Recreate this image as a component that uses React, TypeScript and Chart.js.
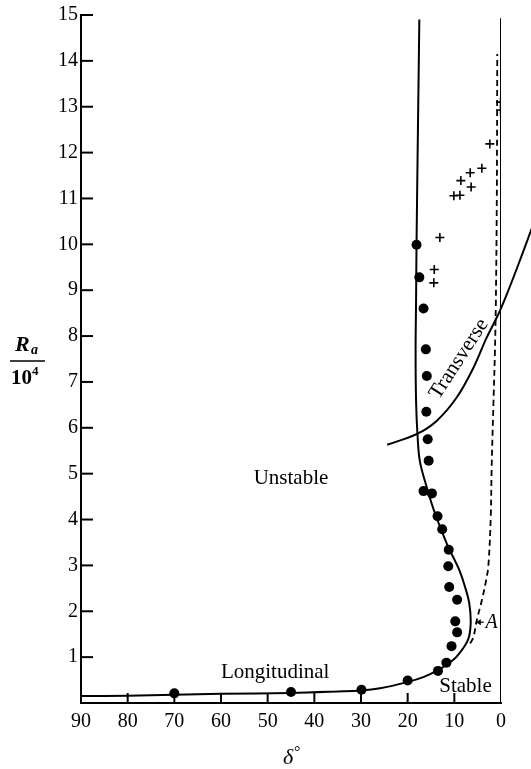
import React, { useEffect, useRef } from "react";
import { Chart, registerables } from "chart.js";

Chart.register(...registerables);

// ---- data (δ in degrees, Ra / 10^4) ----
const xTicks = [90, 80, 70, 60, 50, 40, 30, 20, 10, 0];
const yTicks = [1, 2, 3, 4, 5, 6, 7, 8, 9, 10, 11, 12, 13, 14, 15];

const longitudinalCurve = [
  { x: 90, y: 0.15 }, { x: 80, y: 0.16 }, { x: 70, y: 0.18 }, { x: 60, y: 0.2 },
  { x: 45, y: 0.22 }, { x: 35, y: 0.25 }, { x: 30, y: 0.27 }, { x: 25.9, y: 0.32 },
  { x: 20.3, y: 0.45 }, { x: 16.5, y: 0.57 }, { x: 13.4, y: 0.72 }, { x: 11.3, y: 0.86 },
  { x: 9.5, y: 1.01 }, { x: 7.1, y: 1.37 }, { x: 6.5, y: 1.73 }, { x: 6.8, y: 2.17 },
  { x: 7.7, y: 2.53 }, { x: 8.9, y: 2.89 }, { x: 9.9, y: 3.11 }, { x: 11.6, y: 3.47 },
  { x: 14.1, y: 4.12 }, { x: 15.9, y: 4.7 }, { x: 17.4, y: 5.28 }, { x: 17.9, y: 5.86 },
  { x: 18.2, y: 6.59 }, { x: 18.3, y: 7.67 }, { x: 18.2, y: 8.76 }, { x: 18.1, y: 10 },
  { x: 17.8, y: 12.5 }, { x: 17.5, y: 14.9 },
];

const dashedCurve = [
  { x: 6.6, y: 1.3 }, { x: 5.9, y: 1.44 }, { x: 5.2, y: 1.8 }, { x: 4.1, y: 2.24 },
  { x: 3.2, y: 2.67 }, { x: 2.7, y: 3.0 }, { x: 2.2, y: 4.05 }, { x: 2.0, y: 5.14 },
  { x: 1.6, y: 6.6 }, { x: 1.3, y: 7.67 }, { x: 1.1, y: 8.76 }, { x: 0.9, y: 11 },
  { x: 0.8, y: 14.15 },
];

const zeroLine = [{ x: 0, y: 0 }, { x: 0, y: 14.93 }];

const transverseCurve = [
  { x: 24.4, y: 5.63 }, { x: 18.1, y: 5.86 }, { x: 13.8, y: 6.15 }, { x: 9.5, y: 6.66 },
  { x: 5.9, y: 7.31 }, { x: 3.1, y: 7.96 }, { x: 0.6, y: 8.47 }, { x: -1.2, y: 8.9 },
  { x: -3.5, y: 9.5 }, { x: -6.6, y: 10.35 },
];

const dots = [
  { x: 70, y: 0.21 }, { x: 45, y: 0.24 }, { x: 29.9, y: 0.29 }, { x: 20, y: 0.49 },
  { x: 13.5, y: 0.7 }, { x: 11.7, y: 0.88 }, { x: 10.6, y: 1.24 }, { x: 9.4, y: 1.54 },
  { x: 9.8, y: 1.78 }, { x: 9.4, y: 2.25 }, { x: 11.1, y: 2.53 }, { x: 11.3, y: 2.98 },
  { x: 11.2, y: 3.34 }, { x: 12.6, y: 3.79 }, { x: 13.6, y: 4.07 }, { x: 14.8, y: 4.57 },
  { x: 16.6, y: 4.62 }, { x: 15.5, y: 5.28 }, { x: 15.7, y: 5.75 }, { x: 16.0, y: 6.35 },
  { x: 15.9, y: 7.13 }, { x: 16.1, y: 7.71 }, { x: 16.6, y: 8.6 }, { x: 17.5, y: 9.28 },
  { x: 18.1, y: 9.99 },
];

const crosses = [
  { x: 13.1, y: 10.15 }, { x: 14.3, y: 9.45 }, { x: 14.4, y: 9.16 }, { x: 10.1, y: 11.06 },
  { x: 8.8, y: 11.07 }, { x: 8.6, y: 11.39 }, { x: 6.6, y: 11.56 }, { x: 6.4, y: 11.25 },
  { x: 4.1, y: 11.66 }, { x: 2.4, y: 12.19 }, { x: 0.1, y: 13.1 }, { x: 0.1, y: 12.93 },
];

// region labels (text, δ, Ra, rotation in degrees, italic)
const labels: [string, number, number, number, boolean][] = [
  ["Unstable", 45, 4.89, 0, false],
  ["Longitudinal", 48.4, 0.67, 0, false],
  ["Stable", 7.6, 0.37, 0, false],
  ["Transverse", 9.0, 7.5, -57, false],
];
const pointA = { x: 2.0, y: 1.75 };
const arrowFrom = { x: 3.7, y: 1.76 };
const arrowTo = { x: 5.4, y: 1.76 };

const SERIF = "'Liberation Serif', 'DejaVu Serif', serif";

const decorPlugin = {
  id: "decor",
  afterDraw(chart: any) {
    const { ctx, chartArea, scales } = chart;
    const xs = scales.x;
    const ys = scales.y;
    ctx.save();
    ctx.strokeStyle = "#000";
    ctx.fillStyle = "#000";
    // inward ticks
    ctx.lineWidth = 2;
    yTicks.forEach((v) => {
      const py = ys.getPixelForValue(v);
      ctx.beginPath();
      ctx.moveTo(chartArea.left, py);
      ctx.lineTo(chartArea.left + 12, py);
      ctx.stroke();
    });
    xTicks.forEach((v) => {
      if (v === 0 || v === 90) return;
      const px = xs.getPixelForValue(v);
      ctx.beginPath();
      ctx.moveTo(px, chartArea.bottom);
      ctx.lineTo(px, chartArea.bottom - 10);
      ctx.stroke();
    });
    // region labels
    ctx.textAlign = "center";
    ctx.textBaseline = "middle";
    labels.forEach(([t, x, y, rot, it]) => {
      const px = xs.getPixelForValue(x);
      const py = ys.getPixelForValue(y);
      ctx.save();
      ctx.translate(px, py);
      ctx.rotate((rot * Math.PI) / 180);
      ctx.font = `${it ? "italic " : ""}21px ${SERIF}`;
      ctx.fillText(t, 0, 0);
      ctx.restore();
    });
    // A with arrow
    ctx.font = `italic 20px ${SERIF}`;
    ctx.fillText("A", xs.getPixelForValue(pointA.x), ys.getPixelForValue(pointA.y));
    const ax1 = xs.getPixelForValue(arrowFrom.x);
    const ax2 = xs.getPixelForValue(arrowTo.x);
    const ay = ys.getPixelForValue(arrowFrom.y);
    ctx.lineWidth = 1.2;
    ctx.beginPath();
    ctx.moveTo(ax1, ay);
    ctx.lineTo(ax2, ay);
    ctx.stroke();
    ctx.beginPath();
    ctx.moveTo(ax2, ay);
    ctx.lineTo(ax2 + 5, ay - 3);
    ctx.lineTo(ax2 + 5, ay + 3);
    ctx.closePath();
    ctx.fill();
    // y title: R_a / 10^4
    ctx.textAlign = "left";
    ctx.textBaseline = "alphabetic";
    ctx.font = `bold italic 22px ${SERIF}`;
    ctx.fillText("R", 15, 351);
    ctx.font = `bold italic 14px ${SERIF}`;
    ctx.fillText("a", 31, 354);
    ctx.lineWidth = 1.5;
    ctx.beginPath();
    ctx.moveTo(10, 361);
    ctx.lineTo(45, 361);
    ctx.stroke();
    ctx.font = `bold 21px ${SERIF}`;
    ctx.fillText("10", 11, 384);
    ctx.font = `bold 13px ${SERIF}`;
    ctx.fillText("4", 32, 375);
    // x title: δ°
    ctx.font = `italic 22px ${SERIF}`;
    ctx.fillText("δ", 283, 764);
    ctx.font = `16px ${SERIF}`;
    ctx.fillText("°", 294, 757);
    ctx.restore();
  },
};

export default function App() {
  const ref = useRef<HTMLCanvasElement | null>(null);
  useEffect(() => {
    if (!ref.current) return;
    const lineDs = (data: any[], extra: any = {}) => ({
      data,
      showLine: true,
      borderColor: "#000",
      borderWidth: 2,
      pointRadius: 0,
      pointHoverRadius: 0,
      tension: 0.35,
      fill: false,
      ...extra,
    });
    const chart = new Chart(ref.current, {
      type: "scatter",
      data: {
        datasets: [
          lineDs(longitudinalCurve),
          lineDs(dashedCurve, { borderDash: [6, 4], borderWidth: 1.8 }),
          lineDs(zeroLine, { tension: 0 }),
          lineDs(transverseCurve, { clip: false }),
          {
            data: dots,
            pointStyle: "circle",
            pointRadius: 5,
            backgroundColor: "#000",
            borderColor: "#000",
            borderWidth: 0,
          },
          {
            data: crosses,
            pointStyle: "cross",
            pointRadius: 4.5,
            borderColor: "#000",
            borderWidth: 1.6,
          },
        ],
      } as any,
      options: {
        animation: false,
        responsive: false,
        devicePixelRatio: 1,
        events: [],
        layout: { padding: { top: 13, right: 30, left: 0, bottom: 0 } },
        plugins: { legend: { display: false }, tooltip: { enabled: false } },
        scales: {
          x: {
            type: "linear",
            reverse: true,
            min: 0,
            max: 90,
            afterBuildTicks: (s: any) => {
              s.ticks = xTicks.map((v) => ({ value: v }));
            },
            afterFit: (s: any) => {
              s.height = 66;
            },
            ticks: {
              color: "#000",
              padding: 7,
              font: { family: SERIF, size: 20 },
              maxRotation: 0,
              autoSkip: false,
            },
            grid: { display: false, drawTicks: false },
            border: { display: true, color: "#000", width: 2 },
          },
          y: {
            type: "linear",
            min: 0,
            max: 15,
            afterBuildTicks: (s: any) => {
              s.ticks = yTicks.map((v) => ({ value: v }));
            },
            afterFit: (s: any) => {
              s.width = 81;
            },
            ticks: {
              color: "#000",
              padding: 3,
              font: { family: SERIF, size: 20 },
              autoSkip: false,
            },
            grid: { display: false, drawTicks: false },
            border: { display: true, color: "#000", width: 2 },
          },
        },
      } as any,
      plugins: [decorPlugin],
    });
    return () => chart.destroy();
  }, []);
  return (
    <div style={{ position: "fixed", left: 0, top: 0, width: 531, height: 769, background: "#fff" }}>
      <canvas ref={ref} width={531} height={769} style={{ display: "block" }} />
    </div>
  );
}
